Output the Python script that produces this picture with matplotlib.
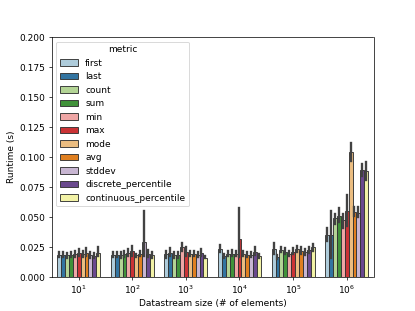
import colorsys
import numpy as np
import matplotlib
matplotlib.use('Agg')
import matplotlib.pyplot as plt
from matplotlib.patches import Patch

# Mean runtime (s) per datastream size, one value per metric
metrics = ['first', 'last', 'count', 'sum', 'min', 'max', 'mode', 'avg',
           'stddev', 'discrete_percentile', 'continuous_percentile']
sizes = ['$\\mathregular{10^{1}}$', '$\\mathregular{10^{2}}$', '$\\mathregular{10^{3}}$',
         '$\\mathregular{10^{4}}$', '$\\mathregular{10^{5}}$', '$\\mathregular{10^{6}}$']

mean_1e1 = [0.0185, 0.0185, 0.018, 0.0185, 0.019, 0.0195, 0.019, 0.020, 0.018, 0.0175, 0.020]
mean_1e2 = [0.0185, 0.0185, 0.018, 0.019, 0.0195, 0.0215, 0.018, 0.019, 0.0287, 0.019, 0.0185]
mean_1e3 = [0.019, 0.020, 0.018, 0.018, 0.025, 0.021, 0.019, 0.019, 0.0185, 0.020, 0.016]
mean_1e4 = [0.0235, 0.0175, 0.019, 0.019, 0.019, 0.0315, 0.019, 0.0185, 0.018, 0.021, 0.0175]
mean_1e5 = [0.0235, 0.0165, 0.0225, 0.021, 0.019, 0.021, 0.023, 0.0215, 0.0205, 0.0225, 0.0245]
mean_1e6 = [0.035, 0.035, 0.049, 0.051, 0.047, 0.055, 0.104, 0.054, 0.053, 0.089, 0.088]

# confidence interval bounds
low_1e1 = [0.0165, 0.0165, 0.016, 0.0165, 0.0168, 0.017, 0.0168, 0.0175, 0.016, 0.0155, 0.017]
low_1e2 = [0.0167, 0.0167, 0.016, 0.0168, 0.017, 0.0175, 0.0165, 0.017, 0.017, 0.0168, 0.016]
low_1e3 = [0.016, 0.017, 0.0158, 0.016, 0.0218, 0.0175, 0.017, 0.017, 0.0165, 0.017, 0.0153]
low_1e4 = [0.0204, 0.016, 0.0175, 0.017, 0.0175, 0.0167, 0.017, 0.0165, 0.0165, 0.018, 0.016]
low_1e5 = [0.019, 0.0148, 0.021, 0.019, 0.017, 0.019, 0.021, 0.019, 0.018, 0.020, 0.0218]
low_1e6 = [0.030, 0.016, 0.044, 0.0455, 0.041, 0.042, 0.097, 0.051, 0.0495, 0.084, 0.081]

high_1e1 = [0.0209, 0.0209, 0.020, 0.0209, 0.0215, 0.023, 0.0215, 0.0243, 0.0205, 0.020, 0.0245]
high_1e2 = [0.0204, 0.0204, 0.0205, 0.0218, 0.023, 0.026, 0.019, 0.0218, 0.055, 0.022, 0.021]
high_1e3 = [0.0218, 0.0237, 0.0204, 0.0204, 0.0281, 0.0245, 0.0218, 0.0218, 0.021, 0.023, 0.017]
high_1e4 = [0.0268, 0.019, 0.0218, 0.022, 0.0218, 0.0575, 0.0218, 0.021, 0.0205, 0.0245, 0.019]
high_1e5 = [0.028, 0.018, 0.025, 0.024, 0.0218, 0.024, 0.026, 0.0245, 0.0235, 0.025, 0.0273]
high_1e6 = [0.0404, 0.055, 0.052, 0.057, 0.0527, 0.068, 0.112, 0.058, 0.058, 0.094, 0.096]

means = np.array([mean_1e1, mean_1e2, mean_1e3, mean_1e4, mean_1e5, mean_1e6])
lows = np.array([low_1e1, low_1e2, low_1e3, low_1e4, low_1e5, low_1e6])
highs = np.array([high_1e1, high_1e2, high_1e3, high_1e4, high_1e5, high_1e6])


def desaturate(rgb, prop=0.75):
    h, l, s = colorsys.rgb_to_hls(*rgb[:3])
    return colorsys.hls_to_rgb(h, l, s * prop)


colors = [desaturate(c) for c in plt.cm.Paired(np.arange(len(metrics)))]

fig, ax = plt.subplots(figsize=(6.4, 4.8), dpi=415 / 6.4)

n = len(metrics)
w = 0.8 / n
x = np.arange(len(sizes))
for i, m in enumerate(metrics):
    xpos = x + (i - (n - 1) / 2) * w
    ax.bar(xpos, means[:, i], width=w, color=colors[i],
           edgecolor='0.2', linewidth=1.0, label=m)
    for xp, lo, hi in zip(xpos, lows[:, i], highs[:, i]):
        ax.plot([xp, xp], [lo, hi], color='.26', lw=2.6)

ax.set_xticks(x)
ax.set_xticklabels(sizes)
ax.set_xlim(-0.5, len(sizes) - 0.5)
ax.set_ylim(0, 0.2)
ax.set_yticks(np.arange(0, 0.2001, 0.025))
ax.set_xlabel('Datastream size (# of elements)')
ax.set_ylabel('Runtime (s)')

handles = [Patch(facecolor=colors[i], edgecolor='0.2', linewidth=1.0)
           for i in range(n)]
ax.legend(handles, metrics, title='metric', loc='upper left')

fig.savefig('out.png', dpi=415 / 6.4)
